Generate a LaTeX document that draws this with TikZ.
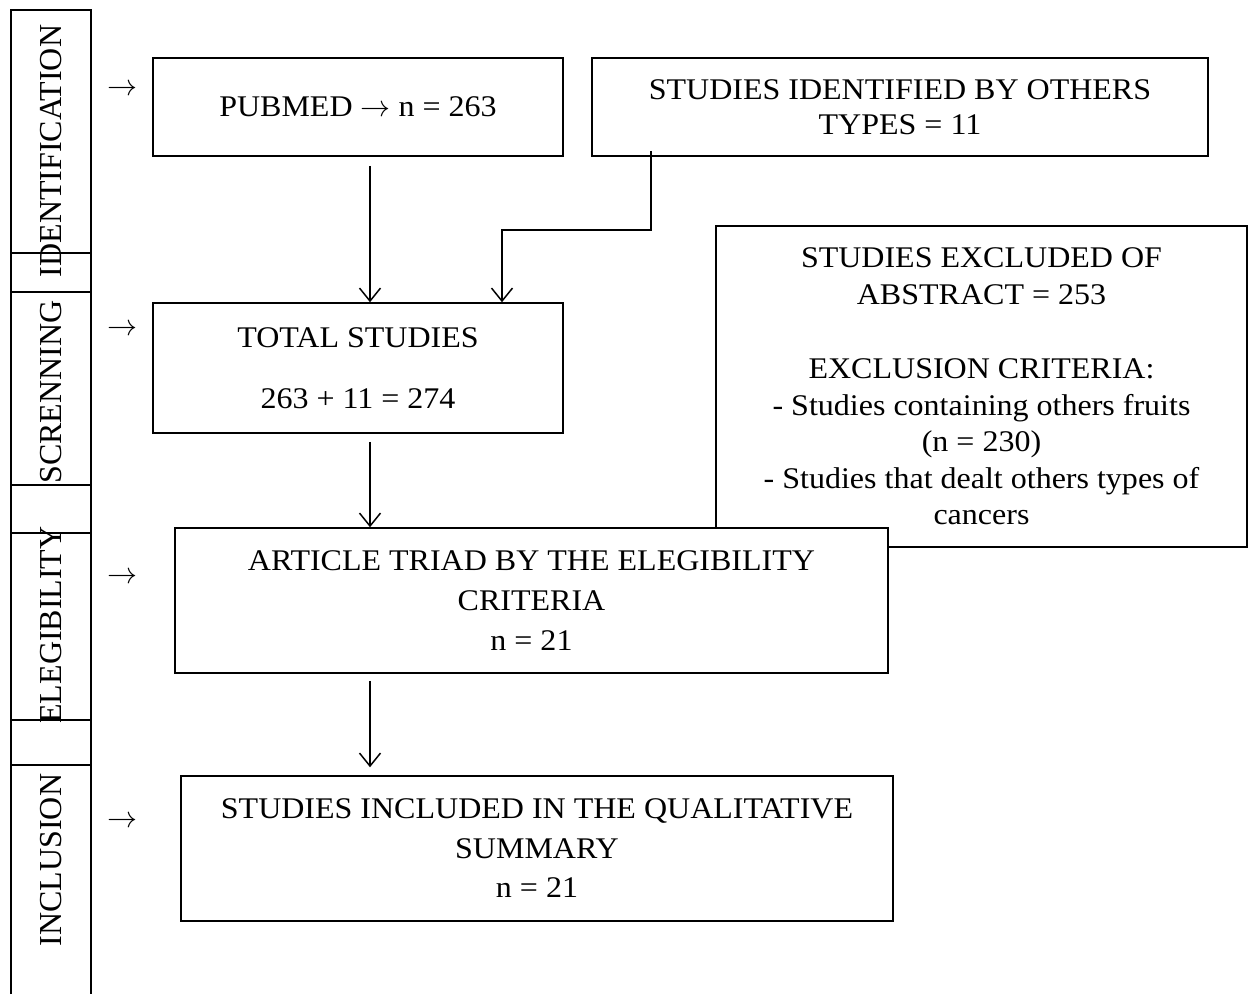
\RequirePackage{fix-cm}
\documentclass[tikz,border=0pt]{standalone}
\usepackage{fontspec}
\setmainfont{Liberation Serif}[FakeStretch=1.067]
\newfontfamily\labfont{Liberation Serif}
\usetikzlibrary{arrows.meta}
\newcommand\myfs[1]{\fontsize{30}{#1}\selectfont}
\newcommand\rarr{\ensuremath{\rightarrow}}
\begin{document}
\begin{tikzpicture}[x=1pt,y=-1pt,
  box/.style={draw, line width=1.5pt, inner sep=0pt, align=center, fill=white},
  lab/.style={rotate=90, inner sep=0pt, font=\labfont\fontsize{32}{36}\selectfont},
  side/.style={inner sep=0pt, font=\myfs{36}},
  arr/.style={line width=1.5pt, -{Straight Barb[length=13pt,width=21pt,line width=1.5pt]}},
  col/.style={line width=1.5pt}]
\useasboundingbox (0,0) rectangle (1249,994);

% left phase column
\draw[col] (11,994) -- (11,10) -- (91,10) -- (91,994);
\foreach \yy in {253,292,485,533,720,765} \draw[col] (11,\yy) -- (91,\yy);
\node[lab] (lid) at (51,151) {IDENTIFICATION};
\node[lab] (lsc) at (51,392) {SCRENNING};
\node[lab] (lel) at (51,625) {ELEGIBILITY};
\node[lab] (lin) at (51,860) {INCLUSION};

% side arrows
\node[side] (s1) at (122,90) {\rarr};
\node[side] (s2) at (122,330) {\rarr};
\node[side] (s3) at (122,578) {\rarr};
\node[side] (s4) at (122,822) {\rarr};

% boxes
\node[box, minimum width=410pt, minimum height=98pt, font=\myfs{35}] (pubmed) at (358,107) {PUBMED \rarr{} n = 263};
\node[box, minimum width=616pt, minimum height=98pt, font=\myfs{35}] (others) at (900,107) {STUDIES IDENTIFIED BY OTHERS\\TYPES = 11};
\node[box, minimum width=410pt, minimum height=130pt, font=\myfs{35}] (total) at (358,368) {TOTAL STUDIES\\[26pt]263 + 11 = 274};
\node[box, minimum width=531pt, minimum height=321pt, font=\myfs{36.5}] (excl) at (981.5,386.5) {STUDIES EXCLUDED OF\\ABSTRACT = 253\\[38pt]EXCLUSION CRITERIA:\\- Studies containing others fruits\\(n = 230)\\- Studies that dealt others types of\\cancers};
\node[box, minimum width=713pt, minimum height=145pt, font=\myfs{40}] (article) at (531.5,600.5) {ARTICLE TRIAD BY THE ELEGIBILITY\\CRITERIA\\n = 21};
\node[box, minimum width=712pt, minimum height=145pt, font=\myfs{39.5}] (incl) at (537,848.5) {STUDIES INCLUDED IN THE QUALITATIVE\\SUMMARY\\n = 21};

% connectors
\coordinate (bend) at (502,230);
\draw[arr] ([xshift=12pt,yshift=-9pt]pubmed.south) coordinate (p1) -- (p1 |- total.north);
\draw[arr] ([xshift=-249pt,yshift=6pt]others.south) |- (bend) -- (bend |- total.north);
\draw[arr] ([xshift=12pt,yshift=-8pt]total.south) coordinate (t1) -- (t1 |- article.north);
\path (article.south -| t1) ++(0,7) coordinate (a1);
\draw[arr, shorten >=8pt] (a1) -- (a1 |- incl.north);
\end{tikzpicture}
\end{document}
